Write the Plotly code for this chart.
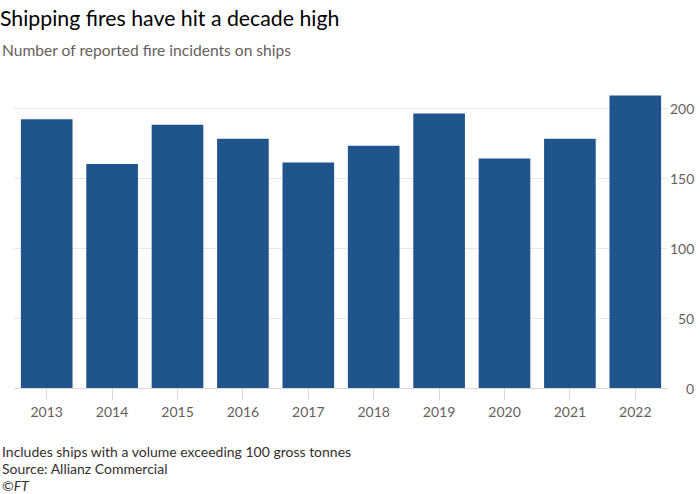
import plotly.graph_objects as go

years = ["2013", "2014", "2015", "2016", "2017", "2018", "2019", "2020", "2021", "2022"]
fires = [192, 160, 188, 178, 161, 173, 196, 164, 178, 209]
y_ticks = [0, 50, 100, 150, 200]

W, H = 700, 494
ML, MR, MT, MB = 14, 32, 80, 106
pw = W - ML - MR
ph = H - MT - MB

def px_x(px):
    return (px - ML) / pw

def px_y(py):
    return (H - MB - py) / ph

fig = go.Figure(go.Bar(
    x=years, y=fires,
    marker=dict(color="#1f558c", line=dict(width=0)),
    hoverinfo="x+y",
))

FONT = "Lato"
grey = "#66605c"

annotations = []
for v in y_ticks:
    annotations.append(dict(
        xref="paper", yref="y", x=px_x(696), y=v, xanchor="right", yanchor="middle",
        text=str(v), showarrow=False, font=dict(family=FONT, size=14, color=grey),
    ))

annotations += [
    dict(xref="paper", yref="paper", x=px_x(0), y=px_y(50),
         xanchor="left", yanchor="middle", showarrow=False,
         text="Number of reported fire incidents on ships",
         font=dict(family=FONT, size=15.6, color=grey)),
    dict(xref="paper", yref="paper", x=px_x(0), y=px_y(451),
         xanchor="left", yanchor="middle", showarrow=False,
         text="Includes ships with a volume exceeding 100 gross tonnes",
         font=dict(family=FONT, size=14, color="#33302e")),
    dict(xref="paper", yref="paper", x=px_x(0), y=px_y(468),
         xanchor="left", yanchor="middle", showarrow=False,
         text="Source: Allianz Commercial",
         font=dict(family=FONT, size=14, color="#33302e")),
    dict(xref="paper", yref="paper", x=px_x(0), y=px_y(485),
         xanchor="left", yanchor="middle", showarrow=False,
         text="<i>©FT</i>",
         font=dict(family=FONT, size=14, color="#33302e")),
]

fig.update_layout(
    width=W, height=H,
    margin=dict(l=ML, r=MR, t=MT, b=MB, pad=0),
    paper_bgcolor="white", plot_bgcolor="white",
    bargap=0.21,
    showlegend=False,
    title=dict(text="Shipping fires have hit a decade high", xref="container", yref="container",
               x=0, xanchor="left", y=1 - 19 / H, yanchor="middle",
               font=dict(family=FONT, size=21.3, color="#000000"), pad=dict(l=0, t=0)),
    xaxis=dict(
        type="category", showgrid=False, showline=True, linecolor="#d9d6d3", linewidth=1,
        ticks="outside", ticklen=11, tickcolor="#d9d6d3", tickwidth=1,
        tickfont=dict(family=FONT, size=14, color=grey),
    ),
    yaxis=dict(
        range=[0, 220], side="right", tickvals=y_ticks, showticklabels=False,
        showgrid=True, gridcolor="#e9e7e5", gridwidth=1, zeroline=False, fixedrange=True,
    ),
    annotations=annotations,
)

fig.write_html("out.html", config={"displayModeBar": False},
               post_script="document.body.style.margin='0';")
